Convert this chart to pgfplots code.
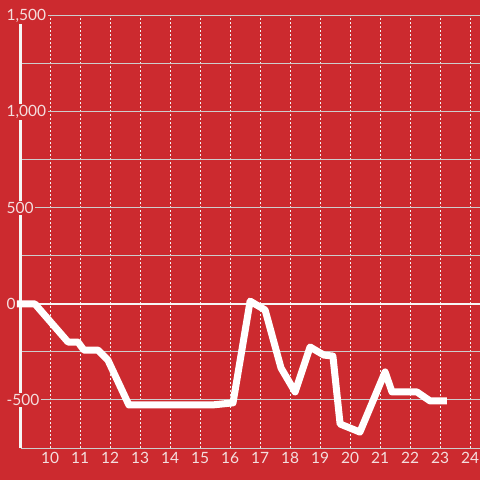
\documentclass[border=0pt]{standalone}
\usepackage{pgfplots}
\pgfplotsset{compat=1.18}
\usepackage{fontspec}
\setmainfont{Lato}
\definecolor{bgred}{RGB}{204,42,47}
\definecolor{gridc}{RGB}{205,205,205}
\definecolor{labc}{RGB}{244,222,222}
\begin{document}
\begin{tikzpicture}
\fill[bgred] (0,0) rectangle (480bp,480bp);
\begin{axis}[
  at={(21bp,32bp)}, anchor=south west,
  scale only axis, width=459bp, height=432bp,
  xmin=9.03333, xmax=24.33333, ymin=-750, ymax=1500,
  clip=false,
  axis x line*=bottom, axis y line*=left,
  x axis line style={gridc, line width=1bp, -},
  y axis line style={white!93!gray, line width=3bp, -},
  xtick={10,...,24},
  ytick={-500,0,500,1000,1500},
  yticklabels={-500,0,500,{1,000},{1,500}},
  minor ytick={-250,250,750,1250},
  major tick length=0, minor tick length=0,
  xmajorgrids, ymajorgrids, yminorgrids,
  x grid style={white!90!gray, line width=0.9bp, dash pattern=on 2bp off 2bp},
  y grid style={gridc, line width=1bp},
  /pgf/number format/assume math mode=true,
  tick label style={font=\fontsize{15.5bp}{17bp}\selectfont, text=labc},
  yticklabel style={anchor=west, xshift=-16bp, fill=bgred, inner sep=1.5bp},
  xticklabel style={yshift=-1bp},
]
\addplot[white!93!gray, line width=2.5bp, forget plot] coordinates {(8.9,0) (24.34,0)};
\addplot[white, line width=7bp, line join=round] coordinates {
(8.9,0) (9.5,0) (10.6,-198) (10.93,-198) (11.13,-240) (11.6,-240) (11.93,-292)
(12.63,-526) (15.4,-526) (16.1,-515) (16.67,15) (17.17,-31) (17.7,-333)
(18.17,-458) (18.67,-224) (19.13,-266) (19.43,-271) (19.67,-625) (20.33,-667)
(21.17,-354) (21.4,-458) (22.23,-458) (22.67,-505) (23.23,-505)};
\end{axis}
\pgfresetboundingbox
\path (0,0) rectangle (480bp,480bp);
\end{tikzpicture}
\end{document}
